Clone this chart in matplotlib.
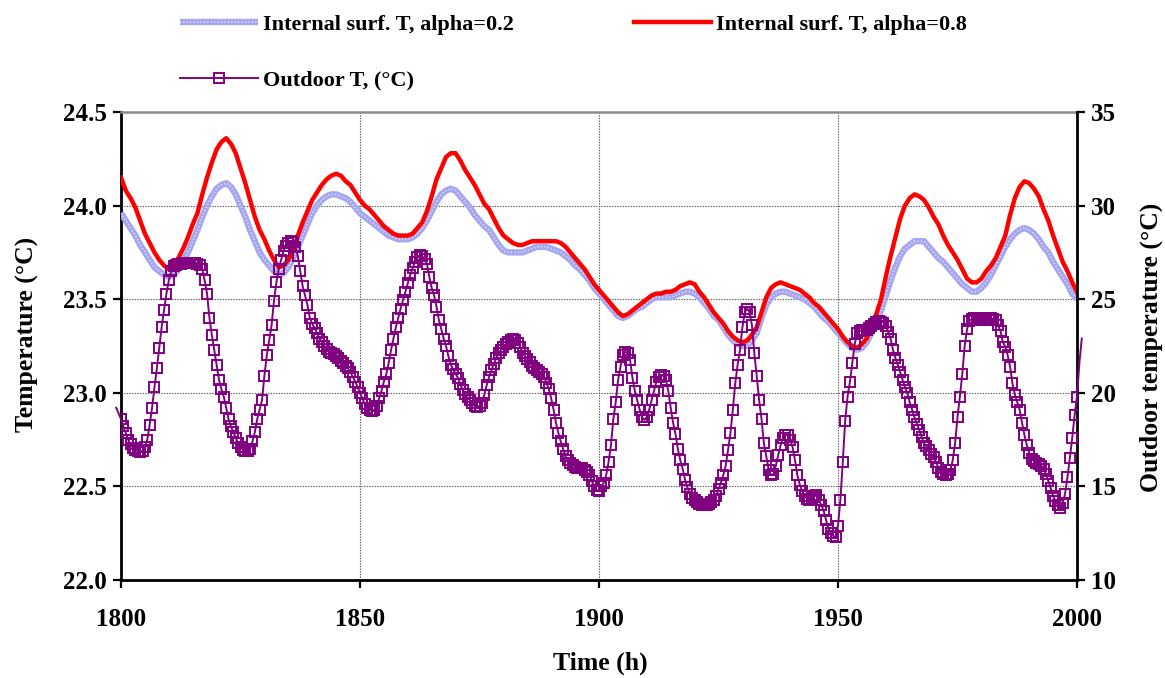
import numpy as np
import matplotlib
matplotlib.use("Agg")
import matplotlib.pyplot as plt
from matplotlib.lines import Line2D
from matplotlib.legend_handler import HandlerTuple

plt.rcParams['font.family'] = ['Liberation Serif', 'DejaVu Serif']
plt.rcParams['font.weight'] = 'bold'

# ---- data ---------------------------------------------------------------
# internal surface temperature, hourly from t = 1800 h to 2000 h
hours = np.arange(1800, 2001)

t_surf_a02 = [
    23.96, 23.92, 23.88, 23.84, 23.79, 23.75, 23.71, 23.67, 23.65, 23.63,
    23.62, 23.63, 23.66, 23.70, 23.75, 23.81, 23.87, 23.94, 24.00, 24.05,
    24.09, 24.11, 24.12, 24.10, 24.06, 24.00, 23.94, 23.87, 23.81, 23.75,
    23.71, 23.68, 23.65, 23.63, 23.64, 23.67, 23.72, 23.78, 23.84, 23.90,
    23.96, 24.00, 24.03, 24.05, 24.06, 24.06, 24.05, 24.04, 24.02, 23.99,
    23.96, 23.94, 23.92, 23.90, 23.88, 23.86, 23.84, 23.83, 23.82, 23.82,
    23.82, 23.83, 23.85, 23.88, 23.92, 23.97, 24.02, 24.06, 24.08, 24.09,
    24.08, 24.05, 24.02, 23.99, 23.95, 23.92, 23.89, 23.87, 23.83, 23.79,
    23.76, 23.75, 23.75, 23.75, 23.75, 23.76, 23.77, 23.78, 23.78, 23.78,
    23.77, 23.76, 23.75, 23.73, 23.71, 23.68, 23.66, 23.63, 23.60, 23.56,
    23.53, 23.50, 23.47, 23.44, 23.41, 23.40, 23.41, 23.43, 23.45, 23.46,
    23.48, 23.50, 23.51, 23.51, 23.51, 23.51, 23.52, 23.53, 23.54, 23.54,
    23.53, 23.51, 23.48, 23.45, 23.41, 23.39, 23.35, 23.31, 23.28, 23.26,
    23.25, 23.25, 23.28, 23.32, 23.40, 23.47, 23.51, 23.53, 23.54, 23.54,
    23.53, 23.52, 23.51, 23.50, 23.48, 23.46, 23.43, 23.40, 23.38, 23.35,
    23.32, 23.29, 23.26, 23.24, 23.23, 23.24, 23.27, 23.32, 23.38, 23.44,
    23.52, 23.60, 23.67, 23.73, 23.77, 23.79, 23.81, 23.81, 23.81, 23.78,
    23.75, 23.72, 23.70, 23.67, 23.64, 23.61, 23.58, 23.56, 23.54, 23.54,
    23.56, 23.59, 23.63, 23.68, 23.73, 23.78, 23.82, 23.85, 23.87, 23.88,
    23.87, 23.85, 23.82, 23.78, 23.75, 23.70, 23.66, 23.62, 23.58, 23.53,
    23.50,
]

t_surf_a08 = [
    24.15, 24.08, 24.04, 23.99, 23.92, 23.85, 23.80, 23.75, 23.71, 23.68,
    23.66, 23.67, 23.72, 23.77, 23.83, 23.90, 23.96, 24.06, 24.15, 24.23,
    24.30, 24.34, 24.36, 24.33, 24.28, 24.20, 24.12, 24.03, 23.94, 23.87,
    23.82, 23.76, 23.71, 23.67, 23.68, 23.71, 23.76, 23.84, 23.91, 23.97,
    24.03, 24.07, 24.11, 24.14, 24.16, 24.17, 24.16, 24.13, 24.11, 24.07,
    24.03, 24.00, 23.98, 23.95, 23.92, 23.89, 23.87, 23.85, 23.84, 23.84,
    23.84, 23.85, 23.88, 23.91, 23.97, 24.05, 24.14, 24.20, 24.26, 24.28,
    24.28, 24.24, 24.19, 24.15, 24.11, 24.06, 24.01, 23.98, 23.93, 23.88,
    23.84, 23.82, 23.80, 23.79, 23.79, 23.80, 23.81, 23.81, 23.81, 23.81,
    23.81, 23.81, 23.80, 23.78, 23.75, 23.72, 23.69, 23.66, 23.62, 23.58,
    23.55, 23.52, 23.49, 23.46, 23.43, 23.41, 23.42, 23.44, 23.46, 23.48,
    23.50, 23.52, 23.53, 23.53, 23.54, 23.54, 23.55, 23.57, 23.58, 23.59,
    23.58, 23.54, 23.51, 23.47, 23.43, 23.40, 23.37, 23.33, 23.30, 23.28,
    23.27, 23.28, 23.31, 23.35, 23.43, 23.51, 23.56, 23.58, 23.59, 23.58,
    23.57, 23.56, 23.55, 23.53, 23.51, 23.48, 23.46, 23.43, 23.40, 23.37,
    23.34, 23.30, 23.27, 23.25, 23.24, 23.26, 23.29, 23.35, 23.42, 23.50,
    23.62, 23.73, 23.83, 23.93, 24.00, 24.04, 24.06, 24.05, 24.03, 23.99,
    23.94, 23.90, 23.84, 23.79, 23.75, 23.71, 23.66, 23.61, 23.59, 23.59,
    23.61, 23.65, 23.68, 23.72, 23.78, 23.84, 23.95, 24.04, 24.10, 24.13,
    24.12, 24.09, 24.05, 23.98, 23.92, 23.84, 23.77, 23.70, 23.65, 23.59,
    23.54,
]

# outdoor temperature, half-hourly from t = 1799 h to 2001 h
outdoor_t0 = 1799.0
outdoor_step = 0.5
t_outdoor = [
    19.2, 18.9, 18.6, 18.2, 17.85, 17.5, 17.25, 17.05, 16.95, 16.88,
    16.85, 16.9, 17.1, 17.5, 18.3, 19.2, 20.3, 21.3, 22.4, 23.5,
    24.4, 25.3, 26.0, 26.5, 26.75, 26.85, 26.9, 26.9, 26.95, 26.95,
    26.95, 26.95, 26.95, 26.95, 26.9, 26.85, 26.6, 26.0, 25.3, 24.0,
    23.1, 22.3, 21.5, 20.7, 20.2, 19.8, 19.2, 18.6, 18.2, 17.9,
    17.6, 17.3, 17.1, 16.95, 16.9, 16.9, 17.0, 17.4, 17.9, 18.6,
    19.1, 19.6, 20.9, 22.0, 22.8, 23.6, 24.9, 25.9, 26.6, 27.1,
    27.6, 27.85, 28.0, 28.1, 28.05, 27.8, 27.3, 26.5, 25.7, 25.2,
    24.7, 24.0, 23.7, 23.45, 23.2, 22.9, 22.7, 22.5, 22.35, 22.2,
    22.1, 22.05, 21.95, 21.85, 21.7, 21.6, 21.45, 21.3, 21.1, 20.85,
    20.6, 20.3, 20.0, 19.7, 19.4, 19.2, 19.1, 19.05, 19.1, 19.3,
    19.7, 20.1, 20.6, 21.0, 21.6, 22.3, 22.9, 23.5, 24.0, 24.5,
    24.95, 25.4, 25.85, 26.3, 26.65, 27.0, 27.25, 27.35, 27.3, 27.15,
    26.9, 26.2, 25.6, 25.2, 24.6, 23.9, 23.4, 22.9, 22.5, 21.95,
    21.5, 21.25, 21.0, 20.8, 20.45, 20.15, 19.95, 19.75, 19.6, 19.45,
    19.3, 19.25, 19.3, 19.45, 19.9, 20.4, 20.85, 21.2, 21.55, 21.85,
    22.1, 22.3, 22.45, 22.6, 22.7, 22.8, 22.85, 22.8, 22.65, 22.45,
    22.15, 21.95, 21.8, 21.65, 21.45, 21.3, 21.2, 21.1, 21.0, 20.85,
    20.55, 20.2, 19.7, 19.1, 18.4, 17.85, 17.4, 17.0, 16.6, 16.4,
    16.25, 16.15, 16.05, 16.0, 16.0, 16.0, 15.9, 15.75, 15.6, 15.3,
    15.0, 14.8, 14.75, 15.0, 15.2, 15.6, 16.3, 17.2, 18.6, 19.5,
    20.7, 21.4, 22.0, 22.2, 22.1, 21.75, 20.8, 20.1, 19.6, 19.1,
    18.7, 18.55, 18.7, 19.1, 19.6, 20.1, 20.6, 20.85, 20.95, 20.9,
    20.7, 20.1, 19.2, 18.4, 17.8, 17.0, 16.4, 15.95, 15.35, 14.95,
    14.6, 14.4, 14.25, 14.15, 14.05, 14.0, 14.0, 14.0, 14.05, 14.15,
    14.3, 14.5, 14.85, 15.2, 15.6, 16.1, 16.95, 17.85, 19.1, 20.5,
    21.5, 22.3, 23.5, 24.3, 24.5, 24.3, 23.6, 22.1, 20.9, 19.6,
    18.6, 17.3, 16.6, 15.9, 15.6, 15.65, 16.1, 16.7, 17.2, 17.6,
    17.75, 17.75, 17.5, 17.1, 16.4, 15.6, 15.1, 14.75, 14.5, 14.35,
    14.3, 14.35, 14.45, 14.55, 14.3, 14.0, 13.7, 13.2, 12.75, 12.5,
    12.35, 12.3, 12.9, 14.3, 16.3, 18.5, 19.8, 20.6, 21.6, 22.6,
    23.2, 23.3, 23.35, 23.35, 23.35, 23.45, 23.55, 23.7, 23.8, 23.85,
    23.8, 23.75, 23.55, 23.25, 22.9, 22.3, 21.85, 21.5, 21.1, 20.7,
    20.3, 20.0, 19.5, 19.1, 18.7, 18.35, 18.0, 17.65, 17.3, 17.15,
    16.95, 16.75, 16.55, 16.3, 16.0, 15.75, 15.65, 15.6, 15.65, 15.85,
    16.4, 17.3, 18.7, 19.8, 21.0, 22.5, 23.4, 23.85, 23.95, 24.0,
    24.0, 23.95, 23.9, 23.9, 23.95, 24.0, 24.0, 23.95, 23.9, 23.6,
    23.3, 22.7, 22.45, 22.0, 21.4, 20.5, 19.9, 19.5, 19.1, 18.4,
    17.75, 17.2, 16.8, 16.45, 16.35, 16.25, 16.2, 16.1, 15.95, 15.65,
    15.3, 14.9, 14.5, 14.2, 14.0, 13.85, 14.1, 14.6, 15.5, 16.5,
    17.6, 18.8, 19.8, 21.6, 22.9,
]

x_ticks = [1800, 1850, 1900, 1950, 2000]
left_ticks = [22.0, 22.5, 23.0, 23.5, 24.0, 24.5]
right_ticks = [10, 15, 20, 25, 30, 35]

label_a02 = "Internal surf. T, alpha=0.2"
label_a08 = "Internal surf. T, alpha=0.8"
label_out = "Outdoor T, (\u00b0C)"

# ---- figure -------------------------------------------------------------
W, H = 1165, 678
fig = plt.figure(figsize=(W / 100, H / 100), dpi=100)
ax = fig.add_axes([121 / W, 1 - 580 / H, (1077 - 121) / W, (580 - 112) / H])
ax2 = ax.twinx()

FS = 18
FS_LAB = 18.5
FS_LEG = 16
BLUE = '#a6a6f0'
RED = '#ff0000'
PURPLE = '#800080'

# internal surface temperatures (left axis)
ax.plot(hours, t_surf_a02, color=BLUE, lw=4.6, solid_capstyle='butt', zorder=3)
ax.plot(hours, t_surf_a02, color='white', lw=1.3, ls=(0, (0.5, 1.4)),
        alpha=0.8, zorder=3.1)
ax.plot(hours, t_surf_a08, color=RED, lw=3.2, zorder=4)

# outdoor temperature (right axis)
t_out = outdoor_t0 + outdoor_step * np.arange(len(t_outdoor))
t_out_vals = np.array(t_outdoor)
ax2.plot(t_out, t_out_vals, color=PURPLE, lw=1.4, clip_on=False, zorder=5)
inside = (t_out >= 1800) & (t_out <= 2000)
ax2.plot(t_out[inside], t_out_vals[inside], ls='none', marker='s', ms=7.2,
         mfc='none', mec=PURPLE, mew=1.4, zorder=6)

# axes ranges and ticks
ax.set_xlim(1800, 2000)
ax.set_ylim(22.0, 24.5)
ax2.set_ylim(10, 35)
ax.set_xticks(x_ticks)
ax.set_yticks(left_ticks)
ax.set_yticklabels([f"{v:.1f}" for v in left_ticks])
ax2.set_yticks(right_ticks)

ax.grid(True, color='#555555', lw=0.8, ls=(0, (1.2, 1.2)))
ax.set_axisbelow(True)

ax.tick_params(axis='both', direction='out', length=6, width=1.6, labelsize=FS)
ax.tick_params(axis='x', pad=14)
ax.tick_params(axis='y', pad=4)
ax2.tick_params(axis='y', direction='out', length=6, width=1.6, labelsize=FS, pad=4)
for lab in ax.get_xticklabels() + ax.get_yticklabels() + ax2.get_yticklabels():
    lab.set_fontweight('bold')

for name in ('left', 'bottom'):
    ax.spines[name].set_linewidth(2.0)
    ax.spines[name].set_color('black')
ax.spines['right'].set_visible(False)
ax.spines['top'].set_color('#8c8c8c')
ax.spines['top'].set_linewidth(1.8)
for name in ('left', 'bottom', 'top'):
    ax2.spines[name].set_visible(False)
ax2.spines['right'].set_linewidth(2.0)
ax2.spines['right'].set_color('black')

# axis titles
fig.text(600 / W, 1 - 663 / H, "Time (h)", fontsize=FS_LAB, fontweight='bold',
         ha='center', va='center')
fig.text(27 / W, 1 - 334 / H, "Temperature (\u00b0C)", fontsize=FS_LAB,
         fontweight='bold', ha='center', va='center', rotation=90)
fig.text(1151 / W, 1 - 347 / H, "Outdoor temperature (\u00b0C)", fontsize=FS_LAB,
         fontweight='bold', ha='center', va='center', rotation=90)

# legend above the plot
h_a02 = (Line2D([], [], color=BLUE, lw=4.6, solid_capstyle='butt'),
         Line2D([], [], color='white', lw=1.3, ls=(0, (0.5, 1.4)), alpha=0.8))
h_a08 = Line2D([], [], color=RED, lw=3.2)
h_out = Line2D([], [], color=PURPLE, lw=1.4, marker='s', ms=7.2, mfc='none',
               mec=PURPLE, mew=1.4)
fig.legend([h_a02, h_out, h_a08], [label_a02, label_out, label_a08],
           handler_map={tuple: HandlerTuple(ndivide=1, pad=0)},
           ncol=2, loc='upper left', bbox_to_anchor=(180 / W, 1 - 14 / H),
           frameon=False, prop={'weight': 'bold', 'size': FS_LEG},
           handlelength=3.5, handletextpad=0.22, labelspacing=1.6,
           columnspacing=5.4, borderpad=0, borderaxespad=0)

fig.savefig("out.png", dpi=100)
